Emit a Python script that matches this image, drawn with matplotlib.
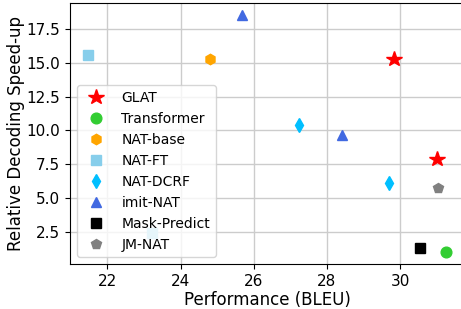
import matplotlib
matplotlib.use('Agg')
import matplotlib.pyplot as plt

# Data (BLEU, speed-up)
glat_x = [29.84, 31.0]
glat_y = [15.3, 7.9]
transformer_x = [31.26]
transformer_y = [1.0]
natbase_x = [24.81]
natbase_y = [15.3]
natft_x = [21.47, 23.22]
natft_y = [15.6, 2.43]
dcrf_x = [27.23, 29.69]
dcrf_y = [10.44, 6.1]
imit_x = [25.68, 28.41]
imit_y = [18.56, 9.7]
maskpredict_x = [30.53]
maskpredict_y = [1.32]
jmnat_x = [31.02]
jmnat_y = [5.74]

fig = plt.figure(figsize=(4.61, 3.09), dpi=100)
ax = fig.add_axes([0.152, 0.1456, 0.855, 0.845])
ax.grid(True, color='#cccccc', linewidth=1.0)
ax.set_axisbelow(True)

ax.plot(glat_x, glat_y, ls='none', marker='*', ms=11.5, color='red', label='GLAT')
ax.plot(transformer_x, transformer_y, ls='none', marker='o', ms=7.7, color='limegreen', label='Transformer')
ax.plot(natbase_x, natbase_y, ls='none', marker='h', ms=7.5, color='orange', label='NAT-base')
ax.plot(natft_x, natft_y, ls='none', marker='s', ms=7.7, color='skyblue', label='NAT-FT')
ax.plot(dcrf_x, dcrf_y, ls='none', marker='d', ms=7.6, color='deepskyblue', label='NAT-DCRF')
ax.plot(imit_x, imit_y, ls='none', marker='^', ms=7.5, color='royalblue', label='imit-NAT')
ax.plot(maskpredict_x, maskpredict_y, ls='none', marker='s', ms=7.7, color='black', label='Mask-Predict')
ax.plot(jmnat_x, jmnat_y, ls='none', marker='p', ms=7.5, color='gray', label='JM-NAT')

ax.set_yticks([2.5, 5.0, 7.5, 10.0, 12.5, 15.0, 17.5])
ax.set_xticks([22, 24, 26, 28, 30])
ax.tick_params(labelsize=11)
ax.set_xlabel('Performance (BLEU)', fontsize=12, labelpad=1.5)
ax.set_ylabel('Relative Decoding Speed-up', fontsize=12, labelpad=1.5)
ax.legend(loc='lower left', fontsize=10)

fig.savefig('out.png', dpi=100)
